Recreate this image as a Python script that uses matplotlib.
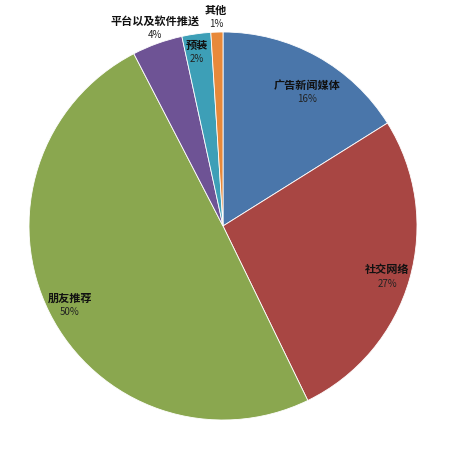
import matplotlib.pyplot as plt

plt.rcParams['font.family'] = ['Noto Sans CJK SC', 'DejaVu Sans']

# data (shares; labels show rounded values)
labels = ['广告新闻媒体', '社交网络', '朋友推荐', '平台以及软件推送', '预装', '其他']
values = [16.1, 26.7, 49.6, 4.2, 2.4, 1.0]
colors = ['#4a76aa', '#a84643', '#8aa74f', '#6e5395', '#3d9fb7', '#e8893a']

# label positions in pixels (from top-left), layout only
label_pos = [(307, 85), (387, 270), (70, 298), (155, 21), (197, 45), (216, 10)]

W, H = 450, 459
fig = plt.figure(figsize=(W / 100, H / 100), dpi=100)
ax = fig.add_axes([0, 0, 1, 1])

cx, cy, r = 223, 226, 194
ax.pie(values, colors=colors, startangle=90, counterclock=False,
       center=(cx, H - cy), radius=r, frame=True,
       wedgeprops=dict(linewidth=0.6, edgecolor='white'))
ax.set_xlim(0, W)
ax.set_ylim(0, H)
ax.set_aspect('equal')
ax.axis('off')

for lab, v, (x, y) in zip(labels, values, label_pos):
    ax.text(x, H - y, lab, ha='center', va='center', fontsize=8,
            fontweight='bold', color='#111111')
    ax.text(x, H - y - 14, f'{round(v)}%', ha='center', va='center', fontsize=7,
            color='#222222')

fig.savefig('out.png', dpi=100)
